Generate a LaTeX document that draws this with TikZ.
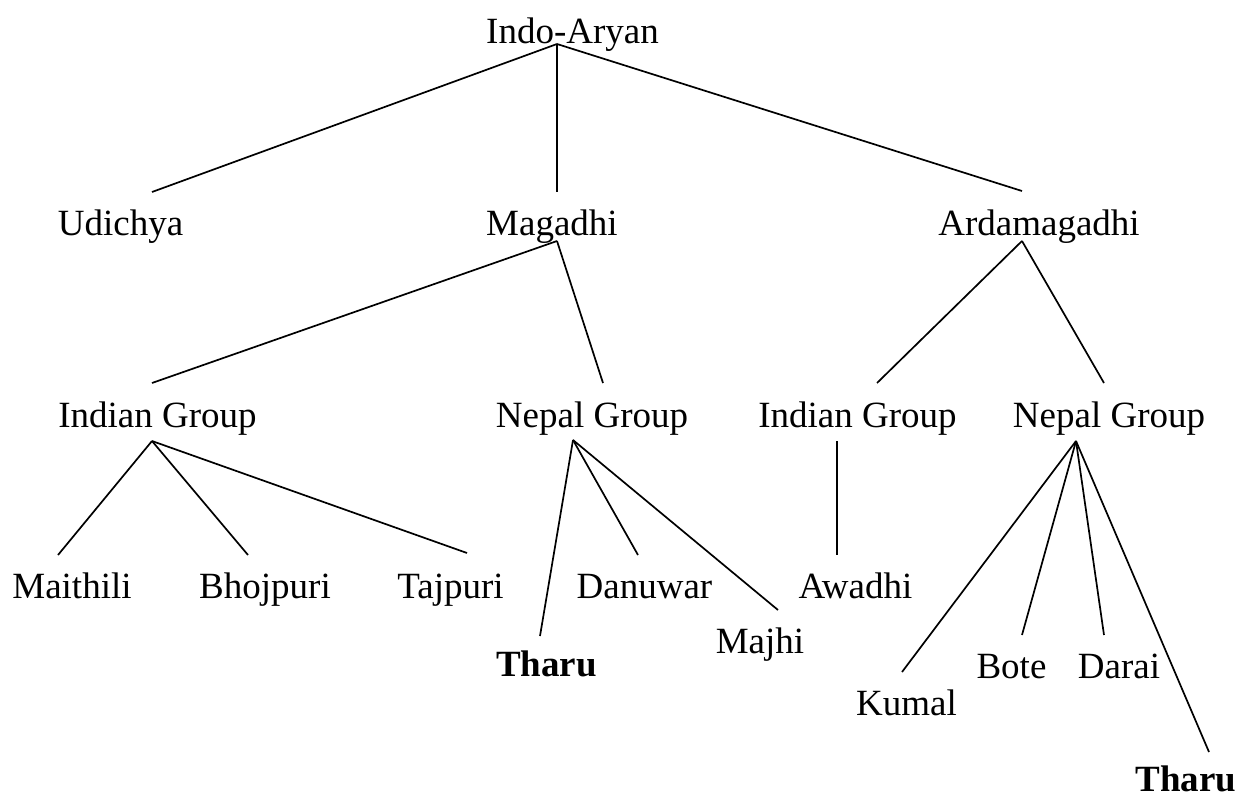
\documentclass[tikz,border=0pt]{standalone}
\usepackage{fontspec}
\setmainfont{Liberation Serif}
\begin{document}
\begin{tikzpicture}[x=1pt,y=-1pt,
  lbl/.style={anchor=base,inner sep=0pt,font=\fontsize{37}{44}\selectfont},
  blbl/.style={lbl,font=\fontsize{37}{44}\selectfont\bfseries},
  edge/.style={line width=1.7pt,line cap=butt}]
\useasboundingbox (0,0) rectangle (1240,798);
% labels
\node[lbl] (indo) at (572.5,43) {Indo-Aryan};
\node[lbl] (udichya) at (120.5,235) {Udichya};
\node[lbl] (magadhi) at (552,235) {Magadhi};
\node[lbl] (ardama) at (1039,235) {Ardamagadhi};
\node[lbl] (igA) at (157.5,427) {Indian Group};
\node[lbl] (ngA) at (592,427) {Nepal Group};
\node[lbl] (igB) at (857.5,427) {Indian Group};
\node[lbl] (ngB) at (1109,427) {Nepal Group};
\node[lbl] (maithili) at (72,598) {Maithili};
\node[lbl] (bhojpuri) at (265,598) {Bhojpuri};
\node[lbl] (tajpuri) at (450.5,598) {Tajpuri};
\node[lbl] (danuwar) at (644.5,598) {Danuwar};
\node[lbl] (awadhi) at (855.5,598) {Awadhi};
\node[blbl] (tharuA) at (546.5,676) {Tharu};
\node[lbl] (majhi) at (760,653) {Majhi};
\node[lbl] (kumal) at (906.5,715) {Kumal};
\node[lbl] (bote) at (1011.5,678) {Bote};
\node[lbl] (darai) at (1119,678) {Darai};
\node[blbl] (tharuB) at (1186,791) {Tharu};
% connector end points
\coordinate (indoD) at (557,44);
\coordinate (udichyaU) at (152,192);
\coordinate (magadhiU) at (557,192);
\coordinate (ardamaU) at (1022,191);
\coordinate (magadhiD) at (557,241);
\coordinate (ardamaD) at (1022,241);
\coordinate (igAU) at (152,383);
\coordinate (ngAU) at (603,383);
\coordinate (igBU) at (877,383);
\coordinate (ngBU) at (1104,383);
\coordinate (igAD) at (152,441);
\coordinate (ngAD) at (573,440);
\coordinate (igBD) at (837,441);
\coordinate (ngBD) at (1076,441);
\coordinate (maithiliU) at (58,555);
\coordinate (bhojpuriU) at (248,555);
\coordinate (tajpuriU) at (467,553);
\coordinate (tharuAU) at (540,636);
\coordinate (danuwarU) at (638,555);
\coordinate (majhiU) at (778,610);
\coordinate (awadhiU) at (837,555);
\coordinate (kumalU) at (902,672);
\coordinate (boteU) at (1022,635);
\coordinate (daraiU) at (1104,635);
\coordinate (tharuBU) at (1209,752);
% connectors
\draw[edge] (indoD) -- (udichyaU);
\draw[edge] (indoD) -- (magadhiU);
\draw[edge] (indoD) -- (ardamaU);
\draw[edge] (magadhiD) -- (igAU);
\draw[edge] (magadhiD) -- (ngAU);
\draw[edge] (ardamaD) -- (igBU);
\draw[edge] (ardamaD) -- (ngBU);
\draw[edge] (igAD) -- (maithiliU);
\draw[edge] (igAD) -- (bhojpuriU);
\draw[edge] (igAD) -- (tajpuriU);
\draw[edge] (ngAD) -- (tharuAU);
\draw[edge] (ngAD) -- (danuwarU);
\draw[edge] (ngAD) -- (majhiU);
\draw[edge] (igBD) -- (awadhiU);
\draw[edge] (ngBD) -- (kumalU);
\draw[edge] (ngBD) -- (boteU);
\draw[edge] (ngBD) -- (daraiU);
\draw[edge] (ngBD) -- (tharuBU);
\end{tikzpicture}
\end{document}
